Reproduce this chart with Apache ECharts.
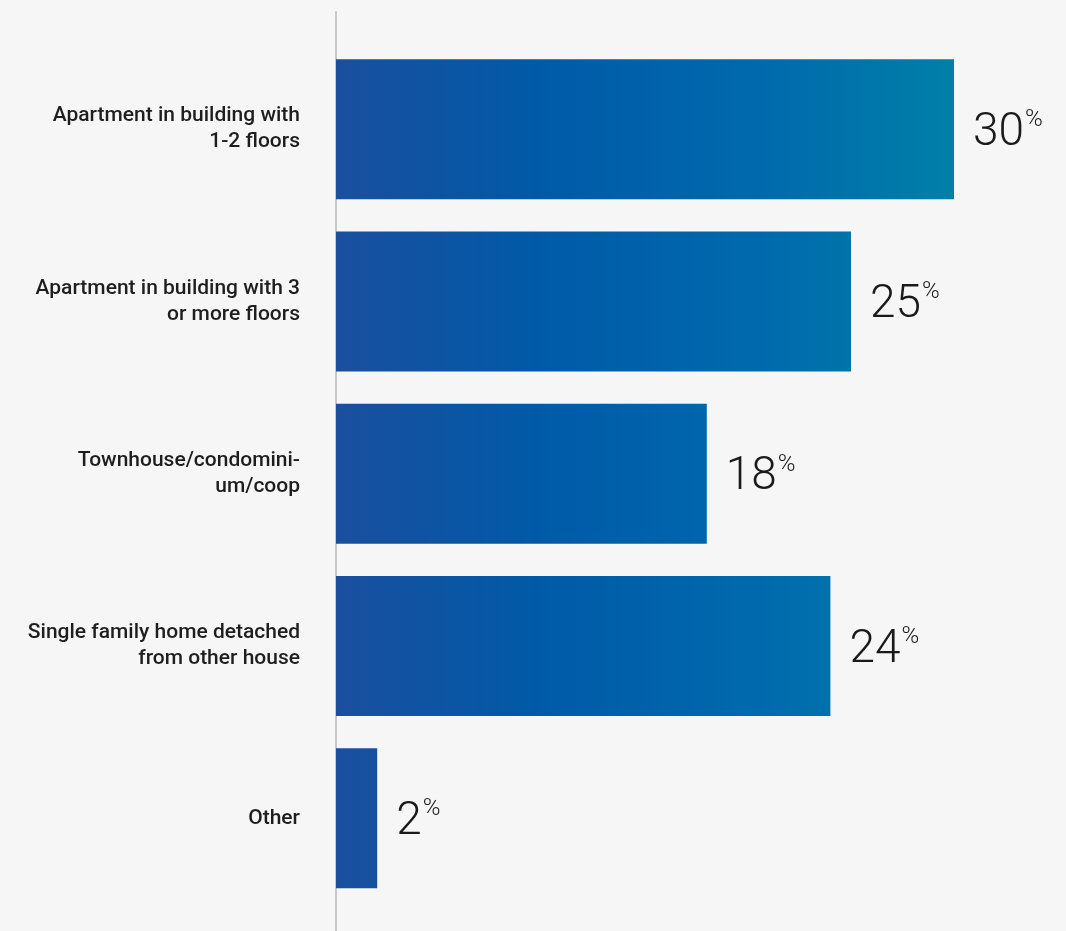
<!DOCTYPE html>
<html>
<head>
<meta charset="utf-8">
<script src="https://cdn.jsdelivr.net/npm/echarts@6/dist/echarts.min.js"></script>
<style>
  html, body { margin: 0; padding: 0; background: #f6f6f6; }
  #chart { width: 1066px; height: 931px; }
</style>
</head>
<body>
<div id="chart"></div>
<script>
// Home type shares (percent)
const categories = [
  'Apartment in building with\n1-2 floors',
  'Apartment in building with 3\nor more floors',
  'Townhouse/condomini-\num/coop',
  'Single family home detached\nfrom other house',
  'Other'
];
const shares = [30, 25, 18, 24, 2];

const chart = echarts.init(document.getElementById('chart'));

const barGradient = new echarts.graphic.LinearGradient(336, 0, 954, 0, [
  { offset: 0, color: '#1a4f9e' },
  { offset: 0.33, color: '#005aa8' },
  { offset: 0.7, color: '#006aad' },
  { offset: 1, color: '#0080a8' }
], true);

chart.setOption({
  backgroundColor: '#f6f6f6',
  animation: false,
  grid: [
    { left: 336, width: 618, top: 43, bottom: 26.5 },
    { left: 336, width: 618, top: 12, bottom: 0 }
  ],
  xAxis: [
    { type: 'value', gridIndex: 0, min: 0, max: 30, show: false },
    { type: 'value', gridIndex: 1, min: 0, max: 30, show: false }
  ],
  yAxis: [
    {
      type: 'category',
      gridIndex: 0,
      data: categories,
      inverse: true,
      axisLine: { show: false },
      axisTick: { show: false },
      axisLabel: {
        margin: 36,
        color: '#1e1e1e',
        fontFamily: 'Roboto',
        fontWeight: 500,
        fontSize: 21,
        lineHeight: 26,
        align: 'right'
      }
    },
    {
      type: 'category',
      gridIndex: 1,
      data: [''],
      axisLine: { show: true, lineStyle: { color: '#c8c8c8', width: 2 } },
      axisTick: { show: false },
      axisLabel: { show: false }
    }
  ],
  series: [{
    type: 'bar',
    xAxisIndex: 0,
    yAxisIndex: 0,
    data: shares,
    barWidth: 140,
    itemStyle: { color: barGradient },
    label: {
      show: true,
      position: 'right',
      distance: 19,
      offset: [0, 4],
      formatter: '{v|{c}}{p|%}',
      rich: {
        v: { fontFamily: 'Roboto', fontWeight: 300, fontSize: 46, color: '#1a1a1a', lineHeight: 50 },
        p: { fontFamily: 'Roboto', fontWeight: 300, fontSize: 24, color: '#1a1a1a', verticalAlign: 'top', lineHeight: 50, padding: [0, 0, 14, 1] }
      }
    }
  }]
});
</script>
</body>
</html>
